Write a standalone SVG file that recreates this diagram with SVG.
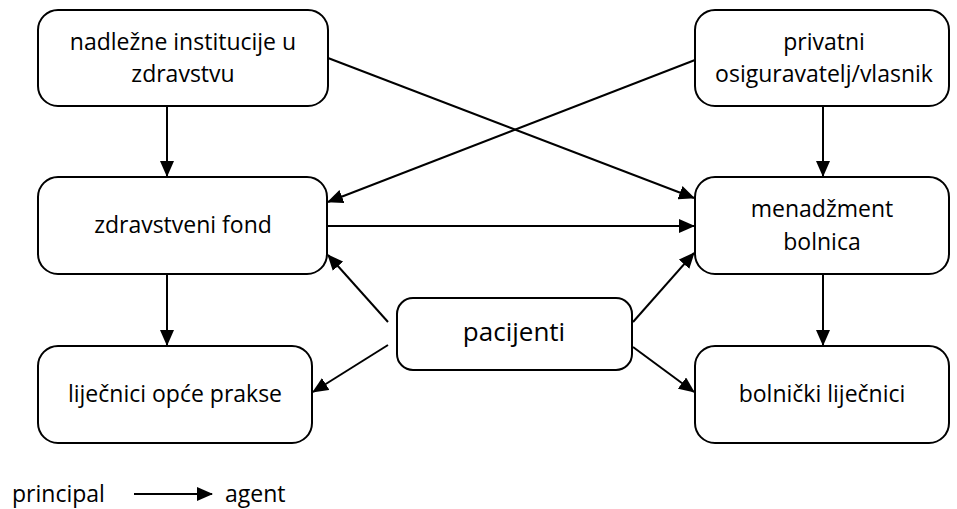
<svg xmlns="http://www.w3.org/2000/svg" width="957" height="509" viewBox="0 0 957 509">
<defs>
<marker id="ah" markerWidth="16" markerHeight="14" refX="15" refY="7" orient="auto" markerUnits="userSpaceOnUse">
<path d="M0,0 L16,7 L0,14 Z" fill="#000"/>
</marker>
<style>
.box{fill:#fff;stroke:#000;stroke-width:2}
.lbl{font-family:"Open Sans","Noto Sans",sans-serif;font-size:23px;fill:#000;text-anchor:middle}
.big{font-size:26px}
.con line{stroke:#000;stroke-width:2;marker-end:url(#ah)}
</style>
</defs>
<rect width="957" height="509" fill="#fff"/>
<g id="n1"><rect class="box" x="38" y="10" width="290" height="96" rx="20"/><text class="lbl" x="183" y="50">nadležne institucije u</text><text class="lbl" x="183" y="82">zdravstvu</text></g>
<g id="n2"><rect class="box" x="695" y="10" width="254" height="96" rx="20"/><text class="lbl" x="824" y="50">privatni</text><text class="lbl" x="824" y="82">osiguravatelj/vlasnik</text></g>
<g id="n3"><rect class="box" x="38" y="177" width="289" height="97" rx="20"/><text class="lbl" x="183" y="233">zdravstveni fond</text></g>
<g id="n4"><rect class="box" x="695" y="177" width="254" height="97" rx="20"/><text class="lbl" x="822" y="217">menadžment</text><text class="lbl" x="822" y="250">bolnica</text></g>
<g id="n5"><rect class="box" x="397" y="298" width="235" height="72" rx="16"/><text class="lbl big" x="514" y="341">pacijenti</text></g>
<g id="n6"><rect class="box" x="38" y="346" width="274" height="97" rx="20"/><text class="lbl" x="175" y="402">liječnici opće prakse</text></g>
<g id="n7"><rect class="box" x="695" y="346" width="254" height="97" rx="20"/><text class="lbl" x="822" y="402">bolnički liječnici</text></g>
<g id="connectors" class="con">
<line x1="167" y1="106" x2="167" y2="176"/>
<line x1="823" y1="106" x2="823" y2="176"/>
<line x1="167" y1="274" x2="167" y2="345"/>
<line x1="823" y1="274" x2="823" y2="345"/>
<line x1="328" y1="58" x2="694" y2="198"/>
<line x1="695" y1="60" x2="328" y2="202"/>
<line x1="327" y1="226" x2="694" y2="226"/>
<line x1="388" y1="322" x2="328" y2="255"/>
<line x1="388" y1="345" x2="313" y2="392"/>
<line x1="633" y1="322" x2="694" y2="253"/>
<line x1="633" y1="347" x2="694" y2="392"/>
<line x1="134" y1="494" x2="212" y2="494"/>
</g>
<g id="legend"><text class="lbl" x="12" y="502" style="text-anchor:start">principal</text><text class="lbl" x="225" y="502" style="text-anchor:start">agent</text></g>
</svg>
